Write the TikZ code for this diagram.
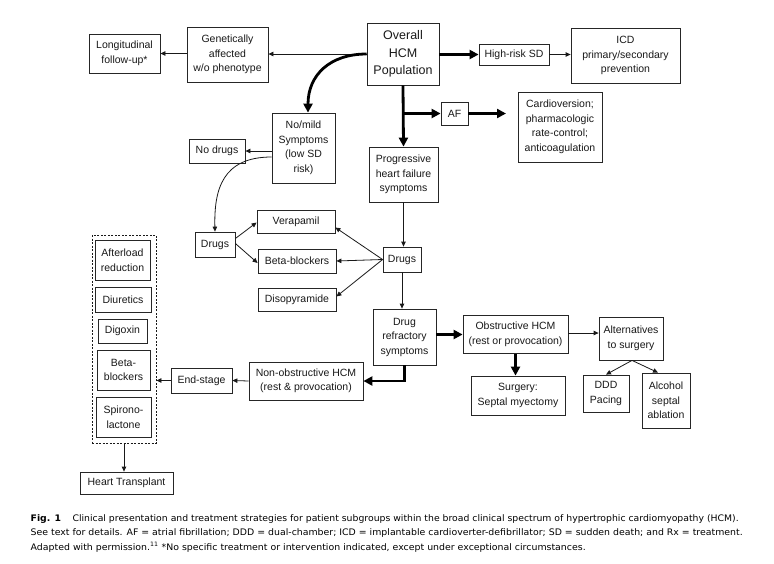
\documentclass[tikz,border=0pt]{standalone}
\usepackage{fontspec}
\setmainfont{Liberation Sans}
\newfontfamily\capfont{DejaVu Sans}
\usetikzlibrary{arrows.meta}
\newsavebox\capboxA
\newsavebox\capboxB
\newsavebox\capboxC
\newcommand\capsize{\capfont\fontsize{9}{11}\selectfont}
\begin{document}
\sbox\capboxA{\capsize{\bfseries Fig. 1}\hspace{0.9em} Clinical presentation and treatment strategies for patient subgroups within the broad clinical spectrum of hypertrophic cardiomyopathy (HCM).}%
\sbox\capboxB{\capsize See text for details. AF = atrial fibrillation; DDD = dual-chamber; ICD = implantable cardioverter-defibrillator; SD = sudden death; and Rx = treatment.}%
\sbox\capboxC{\capsize Adapted with permission.\textsuperscript{11} *No specific treatment or intervention indicated, except under exceptional circumstances.}%
\edef\capsxA{\fpeval{708/(\the\wd\capboxA)}}%
\edef\capsxB{\fpeval{712/(\the\wd\capboxB)}}%
\edef\capsxC{\fpeval{555/(\the\wd\capboxC)}}%
\begin{tikzpicture}[x=1pt,y=-1pt,
  box/.style={draw=black!85, line width=0.8pt, fill=white, inner sep=0pt, align=center, text=black!90,
     font=\fontsize{10.5}{14.5}\selectfont},
  thin/.style={draw=black!90, line width=0.8pt, -{Triangle[length=5pt,width=4.5pt]}},
  thick/.style={draw=black, line width=2.8pt, -{Triangle[length=9pt,width=9pt]}},
  dbox/.style={draw=black!90, line width=0.9pt, dash pattern=on 2pt off 1.5pt, inner sep=0pt}]
\useasboundingbox (0,0) rectangle (774,563);
% nodes
\node[box, minimum width=71pt, minimum height=39pt] (long) at (124.5,53.5) {Longitudinal\\follow-up*};
\node[box, minimum width=81pt, minimum height=55pt] (gen) at (227.5,54.5) {Genetically\\affected\\w/o phenotype};
\node[box, minimum width=72pt, minimum height=62pt, font=\fontsize{12.5}{17.5}\selectfont] (overall) at (403,54) {Overall\\HCM\\Population};
\node[box, minimum width=70pt, minimum height=21pt] (hrsd) at (514,54.5) {High-risk SD};
\node[box, minimum width=109pt, minimum height=55pt] (icd) at (625.5,55.5) {ICD\\primary/secondary\\prevention};
\node[box, minimum width=27pt, minimum height=23pt] (af) at (454.5,113.5) {AF};
\node[box, minimum width=84pt, minimum height=70pt] (cardio) at (560,127) {Cardioversion;\\pharmacologic\\rate-control;\\anticoagulation};
\node[box, minimum width=63pt, minimum height=70pt] (nomild) at (303.5,148) {No/mild\\Symptoms\\(low SD\\risk)};
\node[box, minimum width=56pt, minimum height=24pt] (nodrugs) at (217,151) {No drugs};
\node[box, minimum width=69pt, minimum height=55pt] (prog) at (403.5,174.5) {Progressive\\heart failure\\symptoms};
\node[box, minimum width=78pt, minimum height=23pt] (verap) at (296,221.5) {Verapamil};
\node[box, minimum width=40pt, minimum height=25pt] (drugsL) at (215,244.5) {Drugs};
\node[box, minimum width=78pt, minimum height=24pt] (beta) at (297,261) {Beta-blockers};
\node[box, minimum width=38pt, minimum height=25pt] (drugsR) at (402,259.5) {Drugs};
\node[box, minimum width=78pt, minimum height=23pt] (diso) at (297,299.5) {Disopyramide};
\node[box, minimum width=63pt, minimum height=56pt] (refr) at (404.5,337) {Drug\\refractory\\symptoms};
\node[box, minimum width=105pt, minimum height=38pt] (obst) at (515.5,334.5) {Obstructive HCM\\(rest or provocation)};
\node[box, minimum width=64pt, minimum height=43pt] (alt) at (631,338.5) {Alternatives\\to surgery};
\node[box, minimum width=94pt, minimum height=39pt] (surg) at (518,395.5) {Surgery:\\Septal myectomy};
\node[box, minimum width=46pt, minimum height=37pt] (ddd) at (606,393.5) {DDD\\Pacing};
\node[box, minimum width=48pt, minimum height=55pt] (alc) at (666,400.5) {Alcohol\\septal\\ablation};
\node[box, minimum width=114pt, minimum height=38pt] (nonobs) at (306,381) {Non-obstructive HCM\\(rest \& provocation)};
\node[box, minimum width=61pt, minimum height=25pt] (endst) at (201.5,380.5) {End-stage};
\node[dbox, minimum width=64pt, minimum height=208pt] (dash) at (124,339) {};
\node[box, minimum width=55pt, minimum height=40pt] (afterl) at (122.5,260) {Afterload\\reduction};
\node[box, minimum width=56pt, minimum height=25pt] (diur) at (123,299.5) {Diuretics};
\node[box, minimum width=49pt, minimum height=24pt] (digox) at (122.5,331) {Digoxin};
\node[box, minimum width=53pt, minimum height=40pt] (betaL) at (123.5,370) {Beta-\\blockers};
\node[box, minimum width=55pt, minimum height=40pt] (spiro) at (123.5,417) {Spirono-\\lactone};
\node[box, minimum width=93pt, minimum height=22pt] (heart) at (126.5,483) {Heart Transplant};
\coordinate (afend) at (506,113.5);
% connectors
\draw[thick] (overall.east |- hrsd.west) -- (hrsd.west);
\draw[thin] (hrsd.east) -- (hrsd.east -| icd.west);
\draw[thin] (overall.west) -- (overall.west -| gen.east);
\draw[thin] (gen.west |- long.east) -- (long.east);
\draw[thick] (overall.west) .. controls (330,54) and (308,75) .. ([xshift=4.5pt]nomild.north);
\draw[thick] (overall.south) -- (prog.north);
\draw[thick] (overall.south |- af.west) -- (af.west);
\draw[thick] (af.east) -- (afend);
\draw[thin] (nomild.west |- nodrugs.east) -- (nodrugs.east);
\draw[thin] ([yshift=-9pt]nomild.west) .. controls (222,157) and (214,190) .. (drugsL.north);
\draw[thin] ([yshift=6pt]drugsL.east) -- ([yshift=-1pt]verap.west);
\draw[thin] ([yshift=1pt]drugsL.east) -- ([yshift=-2pt]beta.west);
\draw[thin] (drugsR.west) -- ([yshift=-6pt]verap.east);
\draw[thin] (drugsR.west) -- (beta.east);
\draw[thin] (drugsR.west) -- ([yshift=3pt]diso.east);
\draw[thin] (prog.south) -- (prog.south |- drugsR.north);
\draw[thin] (drugsR.south) -- (drugsR.south |- refr.north);
\draw[thick] (refr.east |- obst.west) -- (obst.west);
\draw[thick] (refr.south) |- (nonobs.east);
\draw[thin] (nonobs.west) -- (endst.east);
\draw[thin] (endst.west) -- (endst.west -| dash.east);
\draw[thin] (dash.south) -- (dash.south |- heart.north);
\draw[thin] (obst.east |- 0,333) -- (alt.west |- 0,333);
\draw[thick] (obst.south) -- (obst.south |- surg.north);
\draw[thin] ([xshift=1pt]alt.south) -- (ddd.north);
\draw[thin] ([xshift=1pt]alt.south) -- ([xshift=-8pt]alc.north);
% caption
\node[anchor=base west, inner sep=0pt, text=black!85] (capA) at (30.5,521) {\scalebox{\capsxA}[1]{\usebox\capboxA}};
\node[anchor=base west, inner sep=0pt, text=black!85] (capB) at (30.5,535.5) {\scalebox{\capsxB}[1]{\usebox\capboxB}};
\node[anchor=base west, inner sep=0pt, text=black!85] (capC) at (30.5,550) {\scalebox{\capsxC}[1]{\usebox\capboxC}};
\end{tikzpicture}
\end{document}
